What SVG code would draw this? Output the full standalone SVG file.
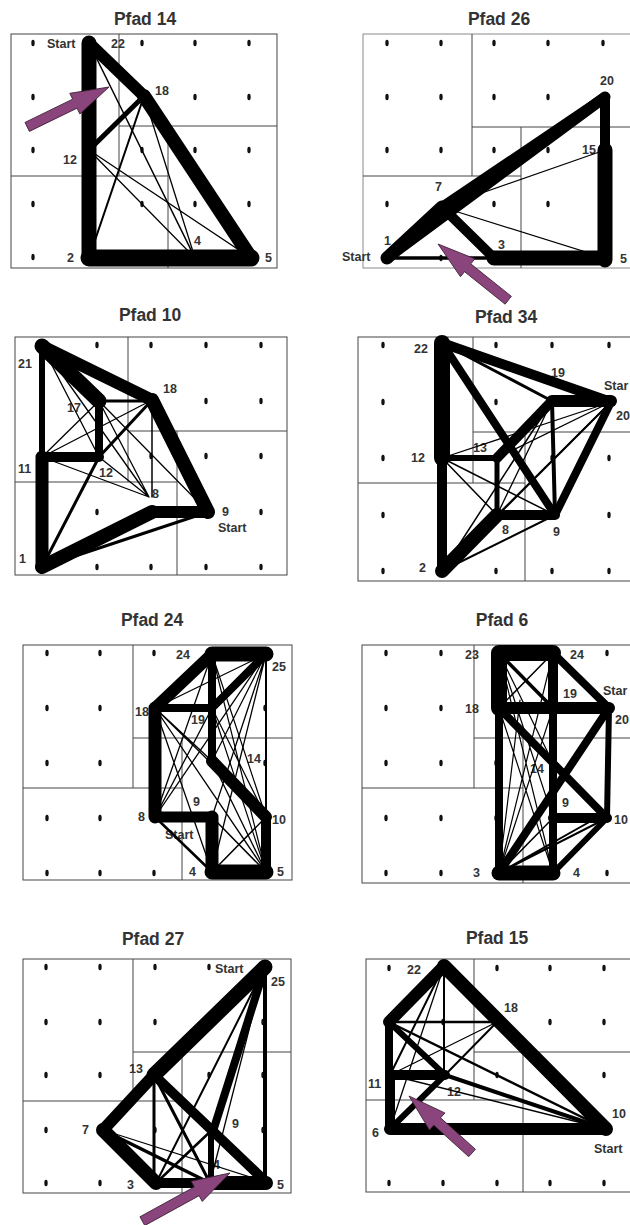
<svg xmlns="http://www.w3.org/2000/svg" xmlns:xlink="http://www.w3.org/1999/xlink" width="630" height="1225" viewBox="0 0 630 1225">
<style>
.title{font-family:"Liberation Sans",Arial,sans-serif;font-weight:bold;font-size:17.5px;fill:#333;text-anchor:middle}
.lab{font-family:"Liberation Sans",Arial,sans-serif;font-weight:bold;font-size:12.5px;fill:#333}
.box{fill:none;stroke:#444;stroke-width:1}
.boxg{fill:none;stroke:#8a8a8a;stroke-width:1}
.part{fill:none;stroke:#444;stroke-width:1}
.conn path{fill:none;stroke:#000;stroke-linecap:round;stroke-linejoin:round}
.arrow{fill:#8b457d;stroke:#3d1f36;stroke-width:0.8}
</style>
<defs>
<ellipse id="d" cx="0" cy="0" rx="1.7" ry="3.2" fill="#111"/>
</defs>
<rect width="630" height="1225" fill="#fff"/>

<!-- Pfad 14 -->
<g id="pfad14">
<text class="title" x="145" y="25">Pfad 14</text>
<rect class="box" x="11" y="34" width="266" height="234"/>
<path class="part" d="M119,34V176M119,126H277M11,176H168M168,126V268"/>
<g id="pfad14-dots">
<use href="#d" x="33" y="43"/><use href="#d" x="88" y="43"/><use href="#d" x="142" y="43"/><use href="#d" x="195" y="43"/><use href="#d" x="249" y="43"/>
<use href="#d" x="33" y="97"/><use href="#d" x="88" y="97"/><use href="#d" x="142" y="97"/><use href="#d" x="195" y="97"/><use href="#d" x="249" y="97"/>
<use href="#d" x="33" y="150"/><use href="#d" x="88" y="150"/><use href="#d" x="142" y="150"/><use href="#d" x="195" y="150"/><use href="#d" x="249" y="150"/>
<use href="#d" x="33" y="204"/><use href="#d" x="88" y="204"/><use href="#d" x="142" y="204"/><use href="#d" x="195" y="204"/><use href="#d" x="249" y="204"/>
<use href="#d" x="33" y="257"/><use href="#d" x="88" y="257"/><use href="#d" x="142" y="257"/><use href="#d" x="195" y="257"/><use href="#d" x="249" y="257"/>
</g>
<g id="pfad14-labels">
<text class="lab" x="47" y="47.5">Start</text><text class="lab" x="111" y="47.5">22</text><text class="lab" x="155" y="95">18</text><text class="lab" x="63" y="164">12</text><text class="lab" x="67" y="262">2</text><text class="lab" x="194" y="245">4</text><text class="lab" x="265" y="262">5</text>
</g>
<g id="pfad14-connectors" class="conn">
<path stroke-width="15" d="M89,43V258"/>
<path stroke-width="17" d="M89,258H251"/>
<path stroke-width="12" d="M89,43L144,96"/>
<path stroke-width="14" d="M144,96L251,258"/>
<path stroke-width="5" d="M89,150L144,96"/>
<path stroke-width="2" d="M89,258L144,96"/>
<path stroke-width="1.5" d="M89,43L195,258"/>
<path stroke-width="1.3" d="M144,96L195,258M89,150L195,258M89,150L251,258"/>
</g>
</g>

<!-- Pfad 26 -->
<g id="pfad26">
<text class="title" x="499" y="25">Pfad 26</text>
<rect class="boxg" x="363" y="34" width="300" height="234"/>
<path class="part" d="M472,34V176M363,176H521M472,127H630M521,127V268"/>
<g id="pfad26-dots">
<use href="#d" x="387" y="43"/><use href="#d" x="441" y="43"/><use href="#d" x="494" y="43"/><use href="#d" x="548" y="43"/><use href="#d" x="603" y="43"/>
<use href="#d" x="387" y="97"/><use href="#d" x="441" y="97"/><use href="#d" x="494" y="97"/><use href="#d" x="548" y="97"/><use href="#d" x="603" y="97"/>
<use href="#d" x="387" y="150"/><use href="#d" x="441" y="150"/><use href="#d" x="494" y="150"/><use href="#d" x="548" y="150"/><use href="#d" x="603" y="150"/>
<use href="#d" x="387" y="204"/><use href="#d" x="441" y="204"/><use href="#d" x="494" y="204"/><use href="#d" x="548" y="204"/><use href="#d" x="603" y="204"/>
<use href="#d" x="387" y="258"/><use href="#d" x="441" y="258"/><use href="#d" x="494" y="258"/><use href="#d" x="548" y="258"/><use href="#d" x="603" y="258"/>
</g>
<g id="pfad26-labels">
<text class="lab" x="342" y="260.7">Start</text><text class="lab" x="384" y="245">1</text><text class="lab" x="435" y="190.7">7</text><text class="lab" x="498" y="249">3</text><text class="lab" x="582" y="154">15</text><text class="lab" x="600" y="85">20</text><text class="lab" x="620" y="262.7">5</text>
</g>
<g id="pfad26-connectors" class="conn">
<path stroke-width="13" d="M387,258L442,207"/>
<path stroke-width="11" d="M387,258L605,97"/>
<path stroke-width="10" d="M442,207L494,258M605,97V150"/>
<path stroke-width="10" d="M442,207L605,97"/>
<path stroke-width="15" d="M494,258H605M605,150V260"/>
<path stroke-width="3.5" d="M387,258H494"/>
<path stroke-width="1.2" d="M442,207L605,150M442,207L605,258"/>
</g>
</g>

<!-- Pfad 10 -->
<g id="pfad10">
<text class="title" x="150" y="321">Pfad 10</text>
<rect class="box" x="15" y="337" width="272" height="238"/>
<path class="part" d="M128,337V482M128,431H287M15,482H177M177,431V575"/>
<g id="pfad10-dots">
<use href="#d" x="43" y="345"/><use href="#d" x="97" y="345"/><use href="#d" x="151" y="345"/><use href="#d" x="206" y="345"/><use href="#d" x="261" y="345"/>
<use href="#d" x="43" y="401"/><use href="#d" x="97" y="401"/><use href="#d" x="151" y="401"/><use href="#d" x="206" y="401"/><use href="#d" x="261" y="401"/>
<use href="#d" x="43" y="456"/><use href="#d" x="97" y="456"/><use href="#d" x="151" y="456"/><use href="#d" x="206" y="456"/><use href="#d" x="261" y="456"/>
<use href="#d" x="43" y="512"/><use href="#d" x="97" y="512"/><use href="#d" x="151" y="512"/><use href="#d" x="206" y="512"/><use href="#d" x="261" y="512"/>
<use href="#d" x="43" y="567"/><use href="#d" x="97" y="567"/><use href="#d" x="151" y="567"/><use href="#d" x="206" y="567"/><use href="#d" x="261" y="567"/>
</g>
<g id="pfad10-labels">
<text class="lab" x="18" y="368">21</text><text class="lab" x="163" y="393">18</text><text class="lab" x="67" y="412">17</text><text class="lab" x="18" y="473">11</text><text class="lab" x="99" y="477">12</text><text class="lab" x="152" y="498">8</text><text class="lab" x="222" y="516">9</text><text class="lab" x="218" y="532">Start</text><text class="lab" x="19" y="563">1</text>
</g>
<g id="pfad10-connectors" class="conn">
<path stroke-width="12" d="M42,346L152,400M152,512H208"/>
<path stroke-width="15" d="M42,346L99,401"/>
<path stroke-width="6" d="M42,346V457"/>
<path stroke-width="8" d="M99,401V457"/>
<path stroke-width="10" d="M42,457H99"/>
<path stroke-width="13" d="M42,457V567"/>
<path stroke-width="14" d="M42,567L152,512M152,400L208,512"/>
<path stroke-width="3" d="M99,401H152M42,567L208,512M42,567L99,457M99,457L152,400"/>
<path stroke-width="1.5" d="M152,400V497"/>
<path stroke-width="1.3" d="M42,346L149,497M99,401L149,497M42,457L149,497M99,457L149,497M42,457L152,400M99,401L208,512M42,346L99,457M42,457L99,401"/>
</g>
</g>

<!-- Pfad 34 -->
<g id="pfad34">
<text class="title" x="506" y="323">Pfad 34</text>
<rect class="box" x="358" y="337" width="300" height="244"/>
<path class="part" d="M473,337V483M473,432H630M358,483H525M525,432V581"/>
<g id="pfad34-dots">
<use href="#d" x="383" y="345"/><use href="#d" x="442" y="345"/><use href="#d" x="496" y="345"/><use href="#d" x="552" y="345"/><use href="#d" x="609" y="345"/>
<use href="#d" x="383" y="402"/><use href="#d" x="442" y="402"/><use href="#d" x="496" y="402"/><use href="#d" x="552" y="402"/><use href="#d" x="609" y="402"/>
<use href="#d" x="383" y="458"/><use href="#d" x="442" y="458"/><use href="#d" x="496" y="458"/><use href="#d" x="552" y="458"/><use href="#d" x="609" y="458"/>
<use href="#d" x="383" y="515"/><use href="#d" x="442" y="515"/><use href="#d" x="496" y="515"/><use href="#d" x="552" y="515"/><use href="#d" x="609" y="515"/>
<use href="#d" x="383" y="571"/><use href="#d" x="442" y="571"/><use href="#d" x="496" y="571"/><use href="#d" x="552" y="571"/><use href="#d" x="609" y="571"/>
</g>
<g id="pfad34-labels">
<text class="lab" x="414" y="353">22</text><text class="lab" x="551" y="377">19</text><text class="lab" x="604" y="390">Star</text><text class="lab" x="616" y="420">20</text><text class="lab" x="411" y="462">12</text><text class="lab" x="473" y="452">13</text><text class="lab" x="502" y="534">8</text><text class="lab" x="553" y="536">9</text><text class="lab" x="419" y="572">2</text>
</g>
<g id="pfad34-connectors" class="conn">
<path stroke-width="16" d="M442,343V458"/>
<path stroke-width="10" d="M442,458V571M442,343L611,402M552,401L497,458M497,515H555"/>
<path stroke-width="12" d="M552,401H611"/>
<path stroke-width="14" d="M442,571L497,515"/>
<path stroke-width="8" d="M442,343L555,515M611,402L555,515"/>
<path stroke-width="6" d="M442,458H497"/>
<path stroke-width="5" d="M497,458V515"/>
<path stroke-width="4" d="M552,401L555,515"/>
<path stroke-width="3" d="M442,343L552,401"/>
<path stroke-width="2" d="M442,571L555,515M442,571L611,402"/>
<path stroke-width="1.5" d="M442,458L555,515M442,458L497,515M442,571L552,401"/>
<path stroke-width="1.3" d="M611,402L442,458M611,402L497,458M611,402L497,515M552,401L497,515"/>
</g>
</g>

<!-- Pfad 24 -->
<g id="pfad24">
<text class="title" x="152" y="626">Pfad 24</text>
<rect class="box" x="23" y="645" width="269" height="235"/>
<path class="part" d="M133,645V788M133,738H292M23,788H182M182,738V880"/>
<g id="pfad24-dots">
<use href="#d" x="47" y="653"/><use href="#d" x="100" y="653"/><use href="#d" x="154" y="653"/><use href="#d" x="210" y="653"/><use href="#d" x="265" y="653"/>
<use href="#d" x="47" y="708"/><use href="#d" x="100" y="708"/><use href="#d" x="154" y="708"/><use href="#d" x="210" y="708"/><use href="#d" x="265" y="708"/>
<use href="#d" x="47" y="763"/><use href="#d" x="100" y="763"/><use href="#d" x="154" y="763"/><use href="#d" x="210" y="763"/><use href="#d" x="265" y="763"/>
<use href="#d" x="47" y="818"/><use href="#d" x="100" y="818"/><use href="#d" x="154" y="818"/><use href="#d" x="210" y="818"/><use href="#d" x="265" y="818"/>
<use href="#d" x="47" y="873"/><use href="#d" x="100" y="873"/><use href="#d" x="154" y="873"/><use href="#d" x="210" y="873"/><use href="#d" x="265" y="873"/>
</g>
<g id="pfad24-labels">
<text class="lab" x="176" y="659">24</text><text class="lab" x="272" y="671">25</text><text class="lab" x="135" y="716">18</text><text class="lab" x="191" y="724">19</text><text class="lab" x="247" y="763">14</text><text class="lab" x="193" y="806">9</text><text class="lab" x="138" y="821">8</text><text class="lab" x="272" y="824">10</text><text class="lab" x="165" y="839">Start</text><text class="lab" x="189" y="876">4</text><text class="lab" x="277" y="876">5</text>
</g>
<g id="pfad24-connectors" class="conn">
<path stroke-width="15" d="M212,654H266M212,872H266"/>
<path stroke-width="12" d="M212,654L155,708M266,817L212,761"/>
<path stroke-width="13" d="M155,708V817M212,817V872"/>
<path stroke-width="11" d="M155,817H212"/>
<path stroke-width="10" d="M266,872V817"/>
<path stroke-width="8" d="M212,654V761M266,654L212,708M155,708H212"/>
<path stroke-width="2.5" d="M155,817L212,872"/>
<path stroke-width="2" d="M266,654V817"/>
<path stroke-width="1.5" d="M212,817L266,872M266,817L212,872"/>
<path stroke-width="1.3" d="M266,654L155,817M266,654L212,817M266,654L212,872M266,654L155,708M155,708L212,872M155,708L266,872M155,708L266,817M155,708L212,761M155,817L212,708M155,817L212,654M212,761L266,872"/>
<path stroke-width="1.2" d="M266,654L212,761M212,654L266,817M212,654L266,872M212,708L266,872M212,708L266,817"/>
</g>
</g>

<!-- Pfad 6 -->
<g id="pfad6">
<text class="title" x="502" y="626">Pfad 6</text>
<rect class="box" x="362" y="645" width="300" height="238"/>
<path class="part" d="M474,645V788M474,738H630M362,788H523M523,738V883"/>
<g id="pfad6-dots">
<use href="#d" x="386" y="653"/><use href="#d" x="441" y="653"/><use href="#d" x="496" y="653"/><use href="#d" x="552" y="653"/><use href="#d" x="607" y="653"/>
<use href="#d" x="386" y="708"/><use href="#d" x="441" y="708"/><use href="#d" x="496" y="708"/><use href="#d" x="552" y="708"/><use href="#d" x="607" y="708"/>
<use href="#d" x="386" y="763"/><use href="#d" x="441" y="763"/><use href="#d" x="496" y="763"/><use href="#d" x="552" y="763"/><use href="#d" x="607" y="763"/>
<use href="#d" x="386" y="818"/><use href="#d" x="441" y="818"/><use href="#d" x="496" y="818"/><use href="#d" x="552" y="818"/><use href="#d" x="607" y="818"/>
<use href="#d" x="386" y="873"/><use href="#d" x="441" y="873"/><use href="#d" x="496" y="873"/><use href="#d" x="552" y="873"/><use href="#d" x="607" y="873"/>
</g>
<g id="pfad6-labels">
<text class="lab" x="465" y="659">23</text><text class="lab" x="570" y="659">24</text><text class="lab" x="563" y="698">19</text><text class="lab" x="603" y="695">Star</text><text class="lab" x="465" y="713">18</text><text class="lab" x="615" y="724">20</text><text class="lab" x="530" y="773">14</text><text class="lab" x="562" y="807">9</text><text class="lab" x="614" y="824">10</text><text class="lab" x="473" y="877">3</text><text class="lab" x="573" y="877">4</text>
</g>
<g id="pfad6-connectors" class="conn">
<path stroke-width="16" d="M499,653H553M499,653V708"/>
<path stroke-width="12" d="M499,708H609"/>
<path stroke-width="10" d="M553,653V708M553,818H607"/>
<path stroke-width="8" d="M553,653L609,708M499,708V873M553,708V873M499,708L607,818M609,708L499,873"/>
<path stroke-width="15" d="M499,873H553"/>
<path stroke-width="6" d="M609,708L607,818M607,818L553,873"/>
<path stroke-width="3.5" d="M499,653L553,708"/>
<path stroke-width="2" d="M499,873L607,818M499,873L607,812"/>
<path stroke-width="1.5" d="M553,653L499,708M499,873L553,818"/>
<path stroke-width="1.2" d="M499,873L553,653M499,873L553,708M499,653L553,873M499,653L553,818M499,653L553,763M499,708L553,873M499,873L520,700"/>
</g>
</g>

<!-- Pfad 27 -->
<g id="pfad27">
<text class="title" x="153" y="945">Pfad 27</text>
<rect class="box" x="23" y="959" width="268" height="234"/>
<path class="part" d="M133,959V1101M133,1052H291M23,1101H182M182,1052V1193"/>
<g id="pfad27-dots">
<use href="#d" x="46" y="967"/><use href="#d" x="100" y="967"/><use href="#d" x="155" y="967"/><use href="#d" x="209" y="967"/><use href="#d" x="263" y="967"/>
<use href="#d" x="46" y="1022"/><use href="#d" x="100" y="1022"/><use href="#d" x="155" y="1022"/><use href="#d" x="209" y="1022"/><use href="#d" x="263" y="1022"/>
<use href="#d" x="46" y="1075"/><use href="#d" x="100" y="1075"/><use href="#d" x="155" y="1075"/><use href="#d" x="209" y="1075"/><use href="#d" x="263" y="1075"/>
<use href="#d" x="46" y="1130"/><use href="#d" x="100" y="1130"/><use href="#d" x="155" y="1130"/><use href="#d" x="209" y="1130"/><use href="#d" x="263" y="1130"/>
<use href="#d" x="46" y="1183"/><use href="#d" x="100" y="1183"/><use href="#d" x="155" y="1183"/><use href="#d" x="209" y="1183"/><use href="#d" x="263" y="1183"/>
</g>
<g id="pfad27-labels">
<text class="lab" x="215" y="973">Start</text><text class="lab" x="271" y="986">25</text><text class="lab" x="129" y="1073">13</text><text class="lab" x="82" y="1134">7</text><text class="lab" x="232" y="1128">9</text><text class="lab" x="213" y="1169">4</text><text class="lab" x="127" y="1189">3</text><text class="lab" x="277" y="1189">5</text>
</g>
<g id="pfad27-connectors" class="conn">
<path stroke-width="15" d="M265,967L154,1075"/>
<path stroke-width="12" d="M154,1075L103,1130"/>
<path stroke-width="14" d="M103,1130L156,1183M210,1183H266"/>
<path stroke-width="10" d="M156,1183H210M154,1075L266,1182"/>
<path stroke-width="8" d="M265,967L214,1128"/>
<path stroke-width="6" d="M211,1128V1183"/>
<path stroke-width="4" d="M265,967V1182"/>
<path stroke-width="3.5" d="M103,1130L210,1183"/>
<path stroke-width="3" d="M154,1075V1183M154,1075L210,1183"/>
<path stroke-width="2.5" d="M156,1183L214,1128"/>
<path stroke-width="2" d="M156,1183L265,967"/>
<path stroke-width="1.3" d="M210,1183L265,967"/>
<path stroke-width="1.2" d="M103,1130L266,1182"/>
</g>
</g>

<!-- Pfad 15 -->
<g id="pfad15">
<text class="title" x="497" y="944">Pfad 15</text>
<rect class="box" x="366" y="959" width="300" height="233"/>
<path class="part" d="M474,959V1100M474,1052H630M366,1100H523M523,1052V1192"/>
<g id="pfad15-dots">
<use href="#d" x="389" y="968"/><use href="#d" x="443" y="968"/><use href="#d" x="497" y="968"/><use href="#d" x="550" y="968"/><use href="#d" x="604" y="968"/>
<use href="#d" x="389" y="1022"/><use href="#d" x="443" y="1022"/><use href="#d" x="497" y="1022"/><use href="#d" x="550" y="1022"/><use href="#d" x="604" y="1022"/>
<use href="#d" x="389" y="1075"/><use href="#d" x="443" y="1075"/><use href="#d" x="497" y="1075"/><use href="#d" x="550" y="1075"/><use href="#d" x="604" y="1075"/>
<use href="#d" x="389" y="1129"/><use href="#d" x="443" y="1129"/><use href="#d" x="497" y="1129"/><use href="#d" x="550" y="1129"/><use href="#d" x="604" y="1129"/>
<use href="#d" x="389" y="1183"/><use href="#d" x="443" y="1183"/><use href="#d" x="497" y="1183"/><use href="#d" x="550" y="1183"/><use href="#d" x="604" y="1183"/>
</g>
<g id="pfad15-labels">
<text class="lab" x="407" y="974">22</text><text class="lab" x="504" y="1012">18</text><text class="lab" x="368" y="1088">11</text><text class="lab" x="447" y="1096">12</text><text class="lab" x="612" y="1118">10</text><text class="lab" x="372" y="1137">6</text><text class="lab" x="594" y="1153">Start</text>
</g>
<g id="pfad15-connectors" class="conn">
<path stroke-width="14" d="M444,966L606,1129"/>
<path stroke-width="12" d="M444,966L389,1022M390,1129H606"/>
<path stroke-width="8" d="M389,1022V1075"/>
<path stroke-width="10" d="M390,1075V1129M390,1075H445"/>
<path stroke-width="6" d="M389,1022L445,1075M390,1129L445,1075"/>
<path stroke-width="4" d="M445,1075L606,1129"/>
<path stroke-width="2.5" d="M389,1022L606,1129M389,1022H497"/>
<path stroke-width="2" d="M444,966V1075M445,1075L497,1022M444,966L390,1075"/>
<path stroke-width="1.3" d="M390,1075L606,1129M444,966L390,1129M390,1075L497,1022"/>
</g>
</g>

<!-- arrows -->
<g id="arrows">
<path class="arrow" transform="translate(109,87) rotate(-26)" d="M-91,-5 H-38 V-11.5 L0,0 L-38,11.5 V5 H-91 Z"/>
<path class="arrow" transform="translate(438,244) rotate(-141.3)" d="M-90,-5 H-38 V-11.5 L0,0 L-38,11.5 V5 H-90 Z"/>
<path class="arrow" transform="translate(230,1173) rotate(-28.8)" d="M-100,-5 H-38 V-11.5 L0,0 L-38,11.5 V5 H-100 Z"/>
<path class="arrow" transform="translate(409,1096) rotate(-137.9)" d="M-85,-5 H-38 V-11.5 L0,0 L-38,11.5 V5 H-85 Z"/>
</g>
</svg>
